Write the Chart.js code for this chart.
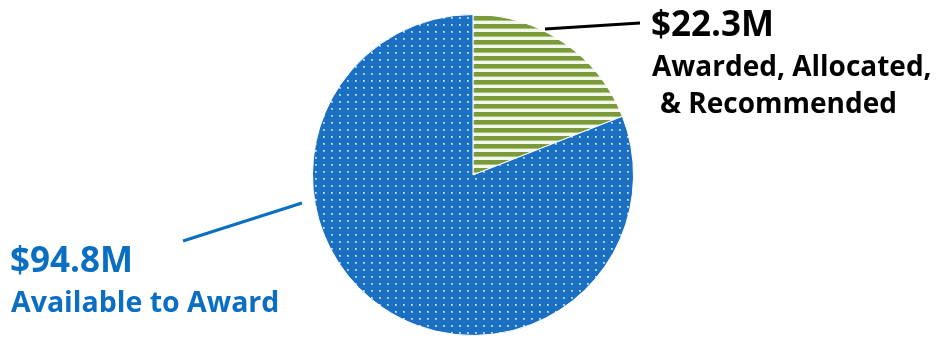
<!DOCTYPE html>
<html>
<head>
<meta charset="utf-8">
<script src="https://cdn.jsdelivr.net/npm/chart.js@4.4.0/dist/chart.umd.min.js"></script>
<style>
  html, body { margin: 0; padding: 0; background: #fff; }
  #wrap { position: relative; width: 948px; height: 338px; }
</style>
</head>
<body>
<div id="wrap"><canvas id="pie" width="948" height="338"></canvas></div>
<script>
// values in $M
const categories = ["Awarded, Allocated, & Recommended", "Available to Award"];
const amounts = [22.3, 94.8];
const valueLabels = ["$22.3M", "$94.8M"];

// striped green tile
function stripePattern(ctx) {
    const c = document.createElement('canvas');
    c.width = 8; c.height = 8;
    const g = c.getContext('2d');
    g.fillStyle = '#f4f7ec';
    g.fillRect(0, 0, 8, 8);
    g.fillStyle = '#7b9a3c';
    g.fillRect(0, 0, 8, 4);
    g.fillStyle = '#a8bf78';
    g.fillRect(0, 4, 8, 1);
    return ctx.createPattern(c, 'repeat');
}

// dotted blue tile
function dotPattern(ctx) {
    const c = document.createElement('canvas');
    c.width = 8; c.height = 7;
    const g = c.getContext('2d');
    g.fillStyle = '#1b6fc2';
    g.fillRect(0, 0, 8, 7);
    g.fillStyle = '#8fc0ea';
    g.fillRect(3, 3, 2, 2);
    g.fillStyle = '#d8ecfb';
    g.fillRect(3, 3, 1, 1);
    return ctx.createPattern(c, 'repeat');
}

const calloutPlugin = {
    id: 'callouts',
    afterDraw(chart) {
        const ctx = chart.ctx;
        ctx.save();
        ctx.lineWidth = 3;
        ctx.lineCap = 'butt';

        // green slice label
        ctx.strokeStyle = '#000';
        ctx.beginPath();
        ctx.moveTo(545, 29);
        ctx.lineTo(640, 23);
        ctx.stroke();

        ctx.fillStyle = '#000';
        ctx.textBaseline = 'alphabetic';
        ctx.font = 'bold 35px "Open Sans", sans-serif';
        ctx.fillText(valueLabels[0], 651, 36);
        ctx.font = 'bold 28px "Open Sans", sans-serif';
        ctx.fillText('Awarded, Allocated,', 652, 76);
        ctx.fillText('& Recommended', 660, 113);

        // blue slice label
        ctx.strokeStyle = '#0a6fc2';
        ctx.beginPath();
        ctx.moveTo(183, 241);
        ctx.lineTo(302, 203);
        ctx.stroke();

        ctx.fillStyle = '#0a6fc2';
        ctx.font = 'bold 35px "Open Sans", sans-serif';
        ctx.fillText(valueLabels[1], 10, 272);
        ctx.font = 'bold 28.5px "Open Sans", sans-serif';
        ctx.fillText('Available to Award', 11, 312);
        ctx.restore();
    }
};

const ctx = document.getElementById('pie').getContext('2d');
new Chart(ctx, {
    type: 'pie',
    data: {
        labels: categories,
        datasets: [{
            data: amounts,
            backgroundColor: [stripePattern(ctx), dotPattern(ctx)],
            borderColor: '#ffffff',
            borderWidth: 1
        }]
    },
    options: {
        responsive: false,
        animation: false,
        layout: { padding: { left: 312, right: 314, top: 14, bottom: 2 } },
        plugins: {
            legend: { display: false },
            tooltip: { enabled: false }
        }
    },
    plugins: [calloutPlugin]
});
</script>
</body>
</html>
